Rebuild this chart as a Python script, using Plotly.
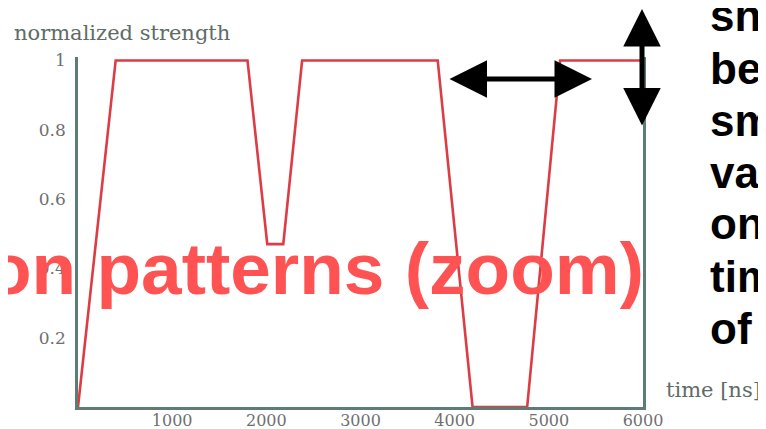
import plotly.graph_objects as go

# ---- data ----
time_ns = [0, 400, 1800, 2010, 2180, 2380, 3820, 4190, 4770, 5120, 6000]
strength = [0, 1, 1, 0.47, 0.47, 1, 1, 0, 0, 1, 1]

x_tick_vals = [1000, 2000, 3000, 4000, 5000, 6000]
x_tick_text = ["1000", "2000", "3000", "4000", "5000", "6000"]
y_tick_vals = [0.2, 0.4, 0.6, 0.8, 1.0]
y_tick_text = ["0.2", "0.4", "0.6", "0.8", "1"]

overlay_red = "on patterns (zoom)"
side_lines = ["sh", "be", "sm", "var", "on", "tim", "of"]

# ---- layout geometry (screen pixels; page body adds an 8px offset) ----
OFF = 8
W, H = 766, 429
PLOT_L, PLOT_R, PLOT_T, PLOT_B = 78, 643, 57, 407   # screen coords
ML = PLOT_L - OFF
MT = PLOT_T - OFF
MR = W - (PLOT_R - OFF)
MB = H - (PLOT_B - OFF)
PW, PH = PLOT_R - PLOT_L, PLOT_B - PLOT_T


def px(xs):
    return (xs - PLOT_L) / PW


def py(ys):
    return (PLOT_B - ys) / PH


AXIS_COL = "#5b7d73"
TICK_COL = "#6f6f6f"

fig = go.Figure()
fig.add_trace(go.Scatter(
    x=time_ns, y=strength, mode="lines",
    line=dict(color="#dc3c44", width=2.6),
    hoverinfo="skip", showlegend=False,
))

fig.update_layout(
    width=W, height=H,
    margin=dict(l=ML, r=MR, t=MT, b=MB, pad=0),
    paper_bgcolor="white", plot_bgcolor="white",
    showlegend=False,
    xaxis=dict(
        range=[0, 6000], showgrid=False, zeroline=False, automargin=False,
        showline=True, linecolor=AXIS_COL, linewidth=2.5, mirror=False,
        tickmode="array", tickvals=x_tick_vals, ticktext=x_tick_text,
        ticks="", tickfont=dict(family="DejaVu Serif", size=16, color=TICK_COL),
        ticklabelstandoff=-3,
    ),
    yaxis=dict(
        range=[0, 1.01], showgrid=False, zeroline=False, automargin=False,
        showline=True, linecolor=AXIS_COL, linewidth=2.5, mirror=True,
        tickmode="array", tickvals=y_tick_vals, ticktext=y_tick_text,
        ticks="", tickfont=dict(family="DejaVu Serif", size=17, color=TICK_COL),
        ticklabelstandoff=6,
    ),
)

annotations = []
# axis titles
annotations.append(dict(
    text="normalized strength", xref="paper", yref="paper",
    x=px(12), y=py(33), xanchor="left", yanchor="middle", showarrow=False,
    font=dict(family="DejaVu Serif", size=21, color="#5f6b66"),
))
annotations.append(dict(
    text="time [ns]", xref="paper", yref="paper",
    x=px(664), y=py(390), xanchor="left", yanchor="middle", showarrow=False,
    font=dict(family="DejaVu Serif", size=21, color="#5f6b66"),
))
# red overlay text
annotations.append(dict(
    text="<b>" + overlay_red + "</b>", xref="paper", yref="paper",
    x=px(646), y=py(268), xanchor="right", yanchor="middle", showarrow=False,
    font=dict(family="Liberation Sans", size=73, color="#ff5252"),
))
# black side text
for i, word in enumerate(side_lines):
    baseline = 35 + i * 52
    annotations.append(dict(
        text="<b>" + word + "</b>", xref="paper", yref="paper",
        x=px(708), y=py(baseline - 19), xanchor="left", yanchor="middle",
        showarrow=False,
        font=dict(family="Liberation Sans", size=44, color="black"),
    ))
# double-headed arrows
annotations.append(dict(
    xref="paper", yref="paper", x=px(592), y=py(79), ax=-144, ay=0,
    axref="pixel", ayref="pixel", text="", showarrow=True,
    arrowhead=2, startarrowhead=2, arrowside="end+start",
    arrowwidth=5, arrowsize=1.5, startarrowsize=1.5, arrowcolor="black",
))
annotations.append(dict(
    xref="paper", yref="paper", x=px(642), y=py(8), ax=0, ay=119,
    axref="pixel", ayref="pixel", text="", showarrow=True,
    arrowhead=2, startarrowhead=2, arrowside="end+start",
    arrowwidth=5, arrowsize=1.5, startarrowsize=1.5, arrowcolor="black",
))
fig.update_layout(annotations=annotations)

fig.write_html("out.html")
